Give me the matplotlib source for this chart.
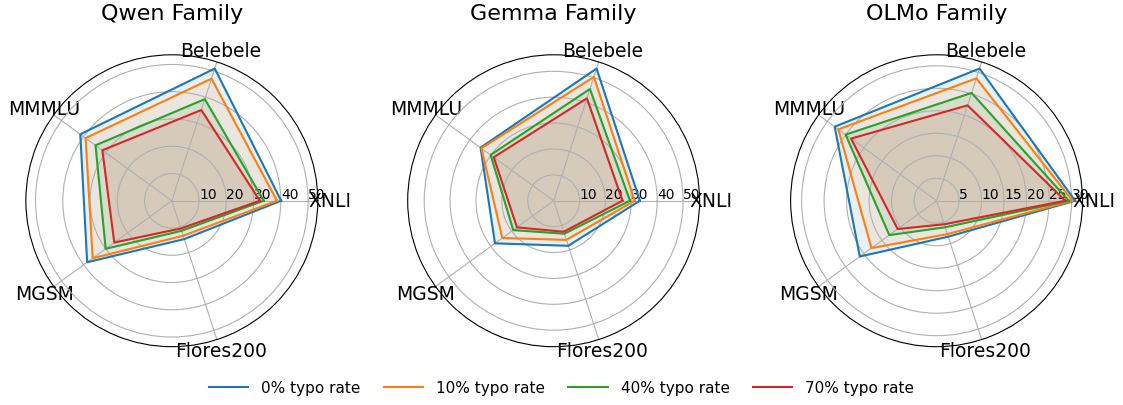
import numpy as np
import matplotlib
matplotlib.use("Agg")
import matplotlib.pyplot as plt

categories = ["XNLI", "Belebele", "MMMLU", "MGSM", "Flores200"]
series_labels = ["0% typo rate", "10% typo rate", "40% typo rate", "70% typo rate"]
families = ["Qwen Family", "Gemma Family", "OLMo Family"]

qwen = [
    [40.1, 51.0, 41.5, 38.4, 14.8],
    [38.6, 47.1, 39.1, 35.9, 13.5],
    [33.7, 39.2, 34.6, 30.0, 11.6],
    [32.3, 35.0, 31.5, 26.1, 10.7],
]
gemma = [
    [33.3, 53.7, 34.9, 28.0, 18.3],
    [31.3, 50.3, 34.5, 24.5, 15.9],
    [29.5, 45.4, 30.1, 19.3, 13.4],
    [26.6, 41.6, 28.6, 17.5, 12.6],
]
olmo = [
    [30.8, 30.9, 28.0, 21.1, 8.4],
    [30.2, 28.6, 27.0, 17.9, 7.8],
    [29.4, 25.2, 25.0, 13.0, 6.2],
    [28.6, 22.3, 23.5, 10.7, 5.5],
]
family_data = [qwen, gemma, olmo]
radial_ticks = [[10, 20, 30, 40, 50], [10, 20, 30, 40, 50], [5, 10, 15, 20, 25, 30]]

colors = ["#1f77b4", "#ff7f0e", "#2ca02c", "#d62728"]

fig = plt.figure(figsize=(11.23, 4.06), dpi=100)
lefts = [0.023, 0.363, 0.704]
angles = np.linspace(0, 2 * np.pi, len(categories), endpoint=False)
angles_closed = np.concatenate([angles, angles[:1]])

handles = []
for i, (name, data) in enumerate(zip(families, family_data)):
    ax = fig.add_axes([lefts[i], 0.1436, 0.26, 0.719], projection="polar")
    for j, vals in enumerate(data):
        v = np.array(vals + vals[:1])
        (ln,) = ax.plot(angles_closed, v, color=colors[j], lw=1.5, label=series_labels[j])
        ax.fill(angles_closed, v, color=colors[j], alpha=0.1)
        if i == 0:
            handles.append(ln)
    mx = max(max(r) for r in data)
    ax.set_ylim(0, mx * 1.05)
    ax.set_yticks(radial_ticks[i])
    ax.set_yticklabels([str(t) for t in radial_ticks[i]], fontsize=10)
    ax.set_rlabel_position(0)
    ax.set_xticks(angles)
    ax.set_xticklabels(categories, fontsize=13.5)
    ax.tick_params(axis="x", pad=-2)
    ax.grid(True, color="#b0b0b0", lw=0.8)
    ax.set_title(name, fontsize=16, pad=26)

fig.legend(handles, series_labels, loc="lower center", bbox_to_anchor=(0.5, -0.01),
           ncol=4, frameon=False, fontsize=11, handlelength=2.6,
           handletextpad=0.85, columnspacing=1.5)

fig.savefig("out.png", dpi=100)
